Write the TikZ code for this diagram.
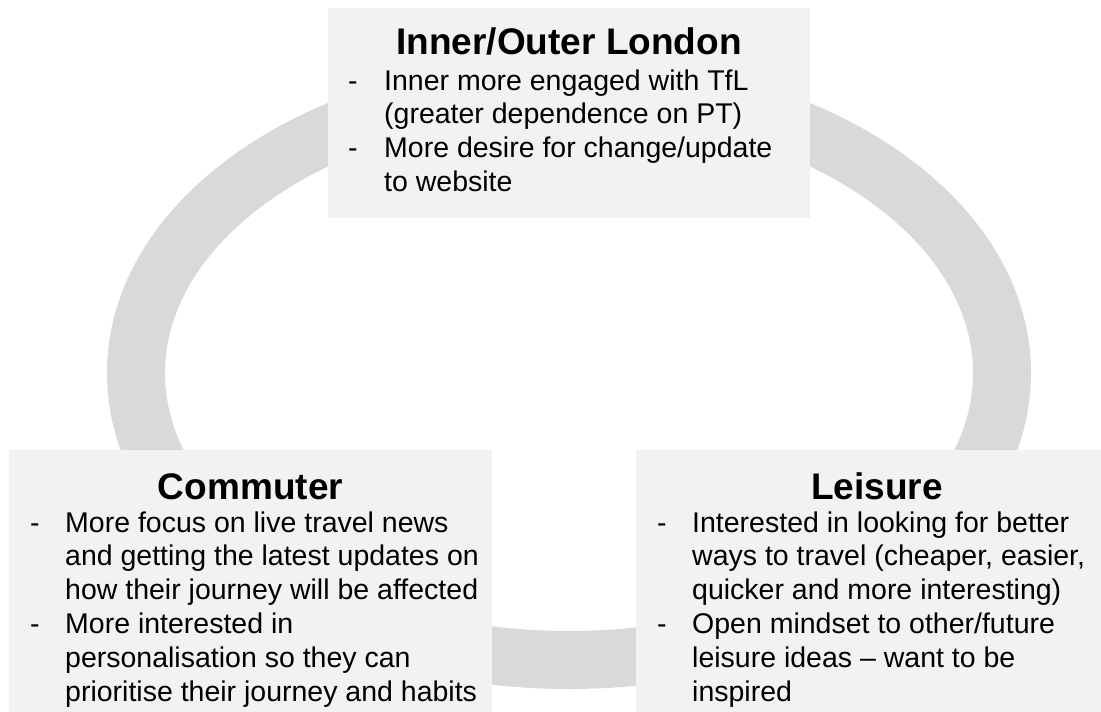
\documentclass[tikz,border=0pt]{standalone}
\usepackage{fontspec}
\setmainfont{Liberation Sans}
\definecolor{ringgray}{HTML}{D9D9D9}
\definecolor{boxgray}{HTML}{F2F2F2}
\begin{document}
\begin{tikzpicture}[x=1pt,y=-1pt,
  panel/.style={fill=boxgray, draw=none, rectangle, inner sep=0pt, anchor=north west},
  titletext/.style={font=\fontsize{37pt}{44pt}\selectfont\bfseries, inner sep=0pt, anchor=base},
  bodytext/.style={font=\fontsize{28.5pt}{33.8pt}\selectfont, inner sep=0pt, anchor=base west},
  ring/.style={draw=ringgray, line width=58pt}]
\useasboundingbox (0,0) rectangle (1101,712);
\clip (0,0) rectangle (1101,712);
\fill[white] (0,0) rectangle (1101,712);
\draw[ring] (569,373) ellipse [x radius=433pt, y radius=287pt];
% panels
\node[panel, minimum width=482pt, minimum height=210pt] (toppanel) at (328,8) {};
\node[panel, minimum width=483pt, minimum height=280pt] (leftpanel) at (9,450) {};
\node[panel, minimum width=482pt, minimum height=280pt] (rightpanel) at (636,450) {};
% titles
\node[titletext] (toptitle) at (569,54) {Inner/Outer London};
\node[titletext] (lefttitle) at (250.5,499) {Commuter};
\node[titletext] (righttitle) at (877,499) {Leisure};
% bodies
\node[bodytext] (topbody) at (348,90) {\begin{tabular}[t]{@{}p{36pt}@{}l@{}}
-&Inner more engaged with TfL\\
&(greater dependence on PT)\\
-&More desire for change/update\\
&to website
\end{tabular}};
\node[bodytext] (leftbody) at (30,532) {\begin{tabular}[t]{@{}p{35pt}@{}l@{}}
-&More focus on live travel news\\
&and getting the latest updates on\\
&how their journey will be affected\\
-&More interested in\\
&personalisation so they can\\
&prioritise their journey and habits
\end{tabular}};
\node[bodytext] (rightbody) at (657,532) {\begin{tabular}[t]{@{}p{35pt}@{}l@{}}
-&Interested in looking for better\\
&ways to travel (cheaper, easier,\\
&quicker and more interesting)\\
-&Open mindset to other/future\\
&leisure ideas -- want to be\\
&inspired
\end{tabular}};
\end{tikzpicture}
\end{document}
